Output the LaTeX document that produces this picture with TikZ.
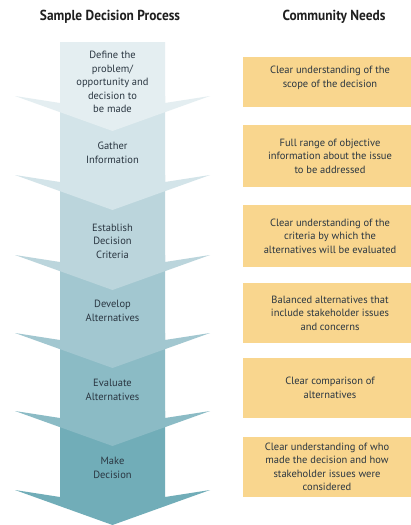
\documentclass[tikz,border=0pt]{standalone}
\usepackage{fontspec}
\setmainfont{PT Sans}
\newfontfamily\titlefont[FakeStretch=0.92]{PT Sans Bold}
\definecolor{ar1}{HTML}{E4EEF1}
\definecolor{ar2}{HTML}{D3E4E9}
\definecolor{ar3}{HTML}{BBD5DC}
\definecolor{ar4}{HTML}{A2C7D0}
\definecolor{ar5}{HTML}{8BBBC5}
\definecolor{ar6}{HTML}{71ADB8}
\definecolor{needfill}{HTML}{F9D68E}
\definecolor{txt}{HTML}{2A3641}
\tikzset{
  steptext/.style={text=txt, align=center, font=\fontsize{10.5}{13.5}\selectfont},
  needbox/.style={fill=needfill, draw=none},
  needtext/.style={text=txt, align=center, font=\fontsize{10.5}{13.5}\selectfont},
  title/.style={text=black!88, font=\titlefont\fontsize{14.5}{16}\selectfont}
}
\begin{document}
\begin{tikzpicture}[x=1pt,y=-1pt]
\useasboundingbox[fill=white] (0,0) rectangle (411,525);
% arrows, drawn from last to first so each head overlaps the next body
\foreach \i/\btop/\yw/\col in {5/411/490/ar6,4/333/411/ar5,3/255/333/ar4,2/175/255/ar3,1/96/175/ar2,0/42/96/ar1}{
  \fill[\col] (60,\btop) -- (60,\yw+7) -- (15,\yw) -- (112.5,\yw+35) -- (210,\yw) -- (165,\yw+7) -- (165,\btop) -- cycle;
}
\node[title] (t1) at (110,17) {Sample Decision Process};
\node[title] (t2) at (334,17) {Community Needs};
\node[steptext] (s1) at (112.5,82) {Define the\\problem/\\opportunity and\\decision to\\be made};
\node[steptext] (s2) at (112.5,153) {Gather\\Information};
\node[steptext] (s3) at (112.5,241) {Establish\\Decision\\Criteria};
\node[steptext] (s4) at (112.5,311) {Develop\\Alternatives};
\node[steptext] (s5) at (112.5,390) {Evaluate\\Alternatives};
\node[steptext] (s6) at (112.5,468) {Make\\Decision};
% needs boxes
\fill[needbox] (243,57) rectangle (420,107);
\fill[needbox] (243,125) rectangle (420,187);
\fill[needbox] (243,205) rectangle (420,267);
\fill[needbox] (243,283) rectangle (420,343);
\fill[needbox] (243,358) rectangle (420,418);
\fill[needbox] (243,437) rectangle (420,497);
\node[needtext] (n1) at (330,78) {Clear understanding of the\\scope of the decision};
\node[needtext] (n2) at (330,156) {Full range of objective\\information about the issue\\to be addressed};
\node[needtext] (n3) at (330,236) {Clear understanding of the\\criteria by which the\\alternatives will be evaluated};
\node[needtext] (n4) at (330,313) {Balanced alternatives that\\include stakeholder issues\\and concerns};
\node[needtext] (n5) at (330,388) {Clear comparison of\\alternatives};
\node[needtext] (n6) at (327,467) {Clear understanding of who\\made the decision and how\\stakeholder issues were\\considered};
\end{tikzpicture}
\end{document}
